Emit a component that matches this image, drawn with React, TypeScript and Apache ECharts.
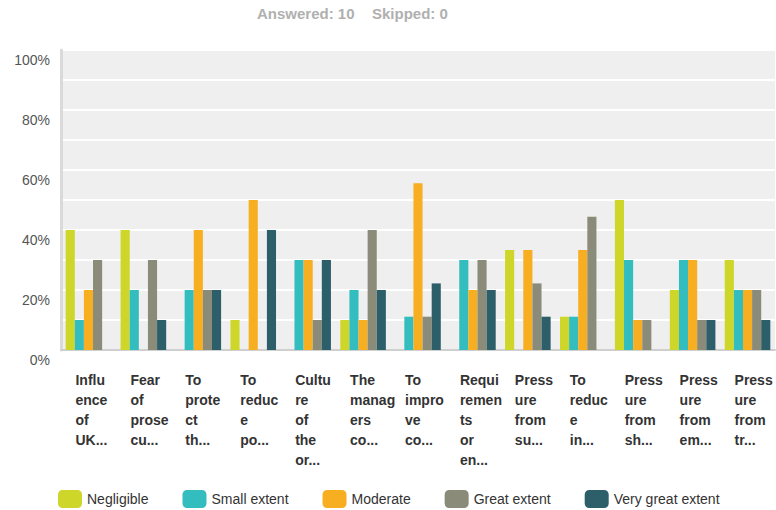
import React, { useEffect, useRef } from "react";
import * as echarts from "echarts";

const categories = [
  "Influ\nence\nof\nUK...",
  "Fear\nof\nprose\ncu...",
  "To\nprote\nct\nth...",
  "To\nreduc\ne\npo...",
  "Cultu\nre\nof\nthe\nor...",
  "The\nmanag\ners\nco...",
  "To\nimpro\nve\nco...",
  "Requi\nremen\nts\nor\nen...",
  "Press\nure\nfrom\nsu...",
  "To\nreduc\ne\nin...",
  "Press\nure\nfrom\nsh...",
  "Press\nure\nfrom\nem...",
  "Press\nure\nfrom\ntr...",
];

const seriesNames = ["Negligible", "Small extent", "Moderate", "Great extent", "Very great extent"];
const seriesColors = ["#ced62a", "#33bdbf", "#f7ae20", "#8b8b7a", "#2d5f6b"];

const negligible = [40, 40, 0, 10, 0, 10, 0, 0, 33.3, 11.1, 50, 20, 30];
const smallExtent = [10, 20, 20, 0, 30, 20, 11.1, 30, 0, 11.1, 30, 30, 20];
const moderate = [20, 0, 40, 50, 30, 10, 55.6, 20, 33.3, 33.3, 10, 30, 20];
const greatExtent = [30, 30, 20, 0, 10, 40, 11.1, 30, 22.2, 44.4, 10, 10, 20];
const veryGreatExtent = [0, 10, 20, 40, 30, 20, 22.2, 20, 11.1, 0, 0, 10, 10];

const seriesData = [negligible, smallExtent, moderate, greatExtent, veryGreatExtent];

export default function App() {
  const ref = useRef<HTMLDivElement>(null);
  useEffect(() => {
    if (!ref.current) return;
    const chart = echarts.init(ref.current, undefined, { renderer: "svg" });
    chart.setOption({
      animation: false,
      backgroundColor: "#ffffff",
      graphic: [
        {
          type: "text",
          left: 257,
          top: 6,
          style: { text: "Answered: 10", fill: "#b0b0b0", font: "bold 15px 'Liberation Sans', Arial, sans-serif" },
        },
        {
          type: "text",
          left: 372,
          top: 6,
          style: { text: "Skipped: 0", fill: "#b0b0b0", font: "bold 15px 'Liberation Sans', Arial, sans-serif" },
        },
      ],
      grid: {
        left: 61,
        right: 1,
        top: 50,
        bottom: 160,
        show: true,
        backgroundColor: "#efefef",
        borderWidth: 0,
        containLabel: false,
      },
      legend: {
        top: 490,
        left: 58,
        itemWidth: 24,
        itemHeight: 18,
        itemGap: 34,
        icon: "roundRect",
        padding: 0,
        textStyle: { fontSize: 14, color: "#333", fontFamily: "'Liberation Sans', Arial, sans-serif" },
        data: seriesNames,
      },
      xAxis: {
        type: "category",
        data: categories,
        axisLine: { show: true, lineStyle: { color: "#cfcfcf", width: 2 } },
        axisTick: { show: false },
        axisLabel: {
          interval: 0,
          margin: 20,
          align: "center",
          verticalAlign: "top",
          formatter: (v: string) => v.split("\n").map((l) => "{a|" + l + "}").join("\n"),
          rich: {
            a: {
              width: 26,
              align: "left",
              fontSize: 14,
              fontWeight: "bold",
              lineHeight: 20,
              color: "#333",
              fontFamily: "'Liberation Sans', Arial, sans-serif",
            },
          },
        },
      },
      yAxis: {
        type: "value",
        min: 0,
        max: 100,
        interval: 10,
        axisLine: { show: true, lineStyle: { color: "#dadada", width: 3 } },
        axisTick: { show: false },
        splitLine: { show: true, lineStyle: { color: "#ffffff", width: 2 } },
        axisLabel: {
          margin: 11,
          fontSize: 14,
          color: "#555",
          fontFamily: "'Liberation Sans', Arial, sans-serif",
          verticalAlign: "top",
          lineHeight: 20,
          formatter: (v: number) => (v % 20 === 0 ? v + "%" : ""),
        },
      },
      series: seriesNames.map((name, i) => ({
        name,
        type: "bar",
        data: seriesData[i],
        barGap: "0%",
        barCategoryGap: "17%",
        itemStyle: { color: seriesColors[i] },
      })),
    });
    return () => chart.dispose();
  }, []);
  return (
    <div
      ref={ref}
      style={{ position: "absolute", left: 0, top: 0, width: 776, height: 510 }}
    />
  );
}
